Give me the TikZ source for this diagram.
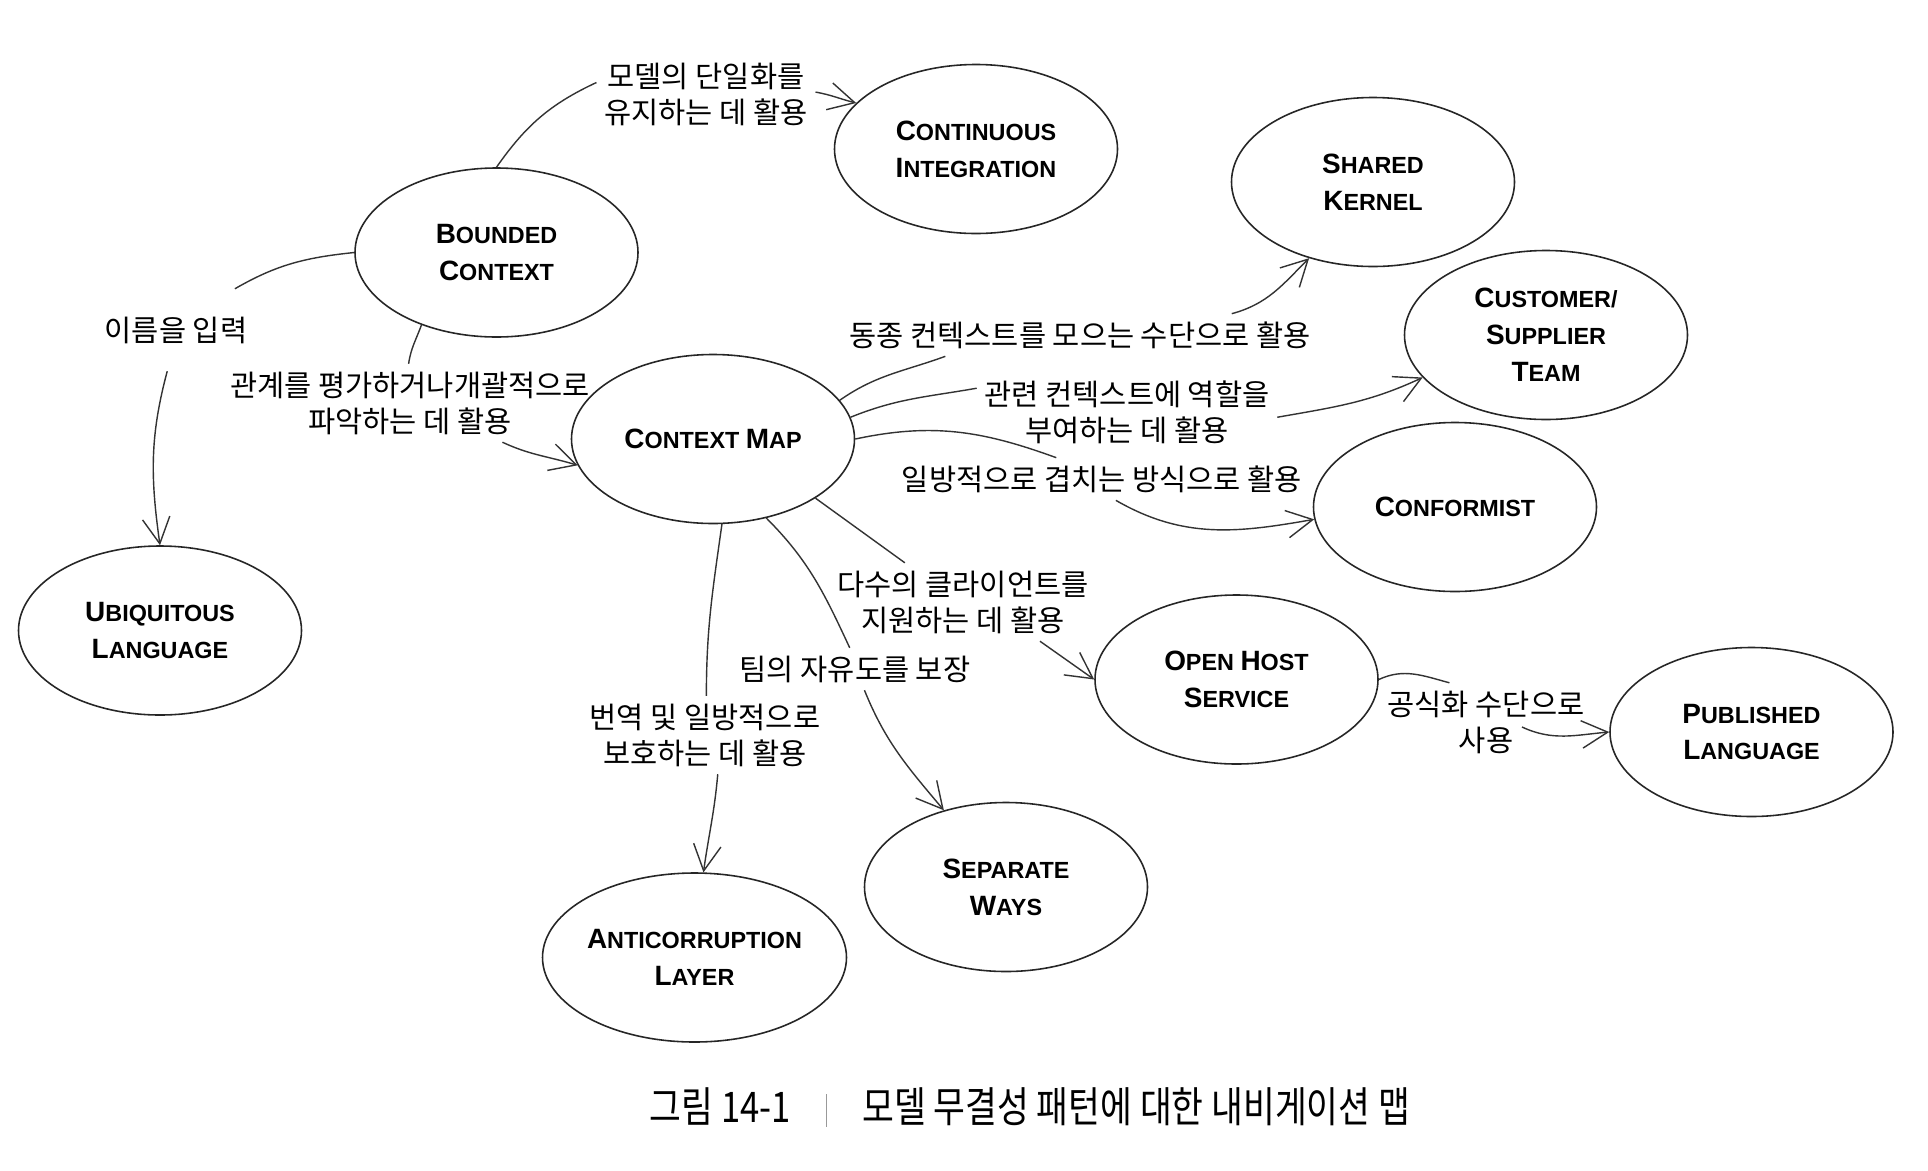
\documentclass[tikz,border=0pt]{standalone}
\usepackage{fontspec}
\setmainfont{Liberation Sans}
\newfontfamily\kr{Noto Sans CJK KR}
\newfontfamily\krcap[FakeStretch=0.82]{Noto Sans CJK KR}
\usepackage{tikz}
\usetikzlibrary{arrows.meta,calc,positioning,shapes.geometric}
\newcommand\bigc[1]{{\fontsize{15.9pt}{21pt}\selectfont #1}}

\begin{document}
\begin{tikzpicture}[
  pat/.style={ellipse,draw=black!85,line width=0.9pt,minimum width=5.66cm,minimum height=3.38cm,
    inner sep=0pt,align=center,font=\fontsize{13.3pt}{21pt}\selectfont\bfseries},
  lab/.style={align=center,inner sep=0.15cm,font=\kr\fontsize{16.8pt}{20.5pt}\selectfont},
  rel/.style={draw=black!80,line width=0.8pt},
  arr/.style={rel,-{Straight Barb[length=0.52cm,width=0.55cm]}}]
  \useasboundingbox[fill=white] (0,0) rectangle (38.56,-23.40);
  % patterns
  \node[pat] (CI) at (19.52,-2.98) {\bigc{C}ONTINUOUS\\\bigc{I}NTEGRATION};
  \node[pat] (SK) at (27.46,-3.64) {\bigc{S}HARED\\\bigc{K}ERNEL};
  \node[pat] (BC) at (9.93,-5.05) {\bigc{B}OUNDED\\\bigc{C}ONTEXT};
  \node[pat] (CST) at (30.92,-6.70) {\bigc{C}USTOMER/\\\bigc{S}UPPLIER\\\bigc{T}EAM};
  \node[pat] (CM) at (14.26,-8.78) {\bigc{C}ONTEXT \bigc{M}AP};
  \node[pat] (CF) at (29.10,-10.14) {\bigc{C}ONFORMIST};
  \node[pat] (UL) at (3.20,-12.61) {\bigc{U}BIQUITOUS\\\bigc{L}ANGUAGE};
  \node[pat] (OHS) at (24.73,-13.59) {\bigc{O}PEN \bigc{H}OST\\\bigc{S}ERVICE};
  \node[pat] (PL) at (35.03,-14.64) {\bigc{P}UBLISHED\\\bigc{L}ANGUAGE};
  \node[pat] (SW) at (20.12,-17.74) {\bigc{S}EPARATE\\\bigc{W}AYS};
  \node[pat,minimum width=5.98cm] (ACL) at (13.89,-19.15) {\bigc{A}NTICORRUPTION\\\bigc{L}AYER};
  % relation labels
  \node[lab] (tCI) at (14.12,-1.88) {모델의 단일화를\\유지하는 데 활용};
  \node[lab,inner ysep=0.55cm] (tUL) at (3.52,-6.60) {이름을 입력};
  \node[lab] (tCM) at (8.20,-8.06) {관계를 평가하거나개괄적으로\\파악하는 데 활용};
  \node[lab] (tSK) at (21.60,-6.70) {동종 컨텍스트를 모으는 수단으로 활용};
  \node[lab] (tCST) at (22.54,-8.24) {관련 컨텍스트에 역할을\\부여하는 데 활용};
  \node[lab] (tCF) at (22.04,-9.58) {일방적으로 겹치는 방식으로 활용};
  \node[lab] (tOHS) at (19.26,-12.04) {다수의 클라이언트를\\지원하는 데 활용};
  \node[lab] (tSW) at (17.10,-13.38) {팀의 자유도를 보장};
  \node[lab] (tACL) at (14.10,-14.70) {번역 및 일방적으로\\보호하는 데 활용};
  \node[lab] (tPL) at (29.72,-14.44) {공식화 수단으로\\사용};
  % relations, broken by their labels
  \draw[rel] (BC.north) to[out=55,in=205] (tCI.174);
  \draw[arr] (tCI.1) to[out=-10,in=166] (CI.159);
  \draw[rel] (BC.west) to[out=186,in=30] (tUL.35);
  \draw[arr] (tUL.258) to[out=255,in=98] (UL.north);
  \draw[rel] (BC.224) to[out=250,in=82] (tCM.92);
  \draw[arr] (tCM.-23) to[out=-25,in=163] (CM.191);
  \draw[rel] (CM.17) to[out=35,in=200] (tSK.189);
  \draw[arr] (tSK.8) to[out=15,in=225] (SK.230);
  \draw[rel] (CM.9) to[out=22,in=190] (tCST.171);
  \draw[arr] (tCST.-2) to[out=10,in=205] (CST.199);
  \draw[rel] (CM.east) to[out=12,in=160] (tCF.155);
  \draw[arr] (tCF.-57) to[out=-30,in=190] (CF.185);
  \draw[rel] (CM.-30) -- (tOHS.146);
  \draw[arr] (tOHS.-27) -- (OHS.west);
  \draw[rel] (CM.-56) to[out=-45,in=115] (tSW.104);
  \draw[arr] (tSW.-66) to[out=-68,in=130] (SW.129);
  \draw[rel] (CM.-84) to[out=-98,in=90] (tACL.88);
  \draw[arr] (tACL.-72) to[out=-95,in=82] (ACL.84);
  \draw[rel] (OHS.east) to[out=25,in=165] (tPL.133);
  \draw[arr] ($(tPL)+(0.72,-0.1)$) to[out=-25,in=185] (PL.west);
  % caption
  \node[font=\krcap\fontsize{24pt}{28pt}\selectfont] (cap) at (20.60,-22.15)
    {그림 14-1\hspace{0.7cm}{\color{black!40}\rule[-0.08cm]{0.03cm}{0.66cm}}\hspace{0.7cm}모델 무결성 패턴에 대한 내비게이션 맵};
\end{tikzpicture}
\end{document}
